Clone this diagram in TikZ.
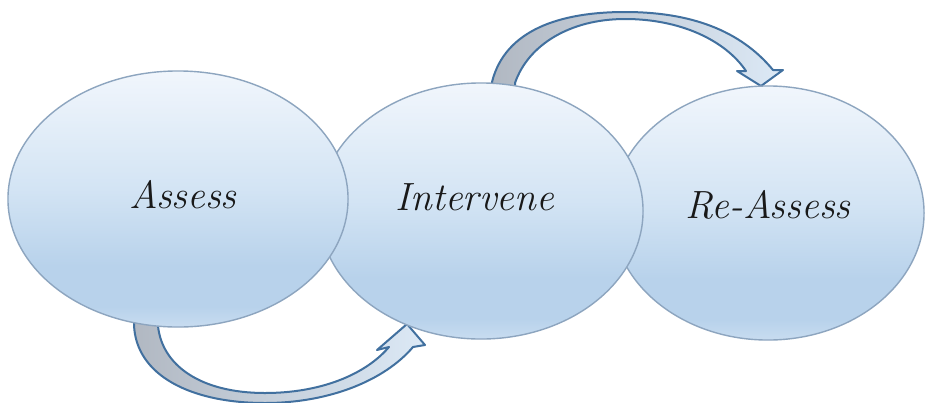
\documentclass[tikz,border=0pt]{standalone}
\usepackage{fontspec}
\usetikzlibrary{shapes.geometric}
\definecolor{ellline}{HTML}{8DA5BF}
\definecolor{arrline}{HTML}{41709F}
\definecolor{arrgray}{HTML}{B1B8C2}
\definecolor{arrblue}{HTML}{DCE9F6}
\definecolor{ctop}{HTML}{F1F6FC}
\definecolor{cmid}{HTML}{D3E4F4}
\definecolor{clow}{HTML}{B8D2EB}
\definecolor{cbot}{HTML}{C8DCF0}
\pgfdeclareverticalshading{ellshade}{100bp}{color(0bp)=(cbot); color(25bp)=(cbot); color(29bp)=(clow); color(37bp)=(clow); color(52bp)=(cmid); color(75bp)=(ctop); color(100bp)=(ctop)}
\tikzset{
  ell/.style={ellipse, draw=ellline, line width=0.035cm, shading=ellshade, inner sep=0pt, outer sep=0pt},
  lbl/.style={anchor=base, inner sep=0pt, font=\fontsize{28}{32}\selectfont\itshape, text=black!90},
  blockarrow/.style={draw=arrline, line width=0.05cm, line join=round, left color=arrgray, right color=arrblue}
}
\begin{document}
\begin{tikzpicture}[x=0.025cm, y=-0.025cm]
\useasboundingbox (0,0) rectangle (925,402);
\clip (0,0) rectangle (925,402);
\fill[white] (0,0) rectangle (925,402);
% arrows (behind the ellipses)
\path[blockarrow] (492,92) -- (492,82) .. controls (505,30) and (560,12) .. (625,12)
  .. controls (690,12) and (740,30) .. (773,70) -- (783,70) -- (761,86) -- (737,71) -- (746,71)
  .. controls (725,40) and (680,19) .. (625,19) .. controls (570,19) and (528,45) .. (515,83) -- (515,92) -- cycle;
\path[blockarrow] (134,316) -- (134,325) .. controls (136,375) and (190,403) .. (265,403)
  .. controls (330,403) and (385,380) .. (413,347) -- (425,345) -- (407,324) -- (377,350) -- (389,347)
  .. controls (365,375) and (320,393) .. (265,393) .. controls (200,393) and (162,365) .. (158,326) -- (158,316) -- cycle;
% ellipses, the left one on top
\node[ell, minimum width=7.8cm, minimum height=6.35cm] (reassess) at (768,213) {};
\node[ell, minimum width=8.1cm, minimum height=6.4cm] (intervene) at (481,211) {};
\node[ell, minimum width=8.5cm, minimum height=6.4cm] (assess) at (178,199) {};
% labels
\node[lbl] (tassess) at (183,208) {Assess};
\node[lbl] (tintervene) at (475,210) {Intervene};
\node[lbl] (treassess) at (768,218) {Re-Assess};
\end{tikzpicture}
\end{document}
